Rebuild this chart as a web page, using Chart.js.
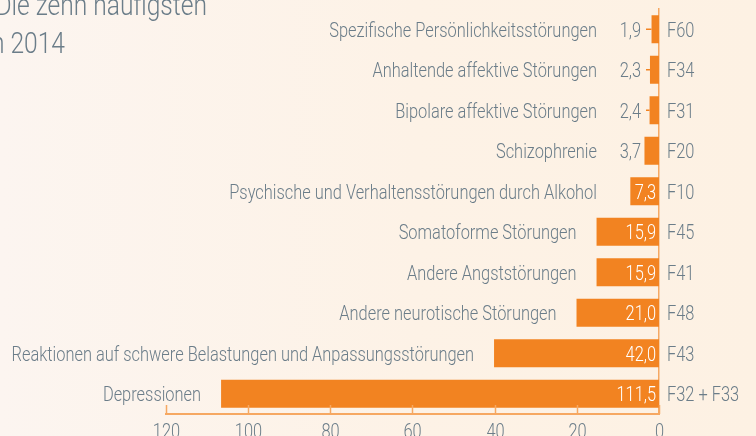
<!DOCTYPE html>
<html>
<head>
<meta charset="utf-8">
<script src="https://cdn.jsdelivr.net/npm/chart.js@4.4.1/dist/chart.umd.min.js"></script>
<style>
html, body { margin: 0; padding: 0; overflow: hidden; width: 756px; height: 436px;
  background: linear-gradient(90deg, #fcf5f0 0%, #fdf2e6 55%, #fdf1e3 100%); }
#wrap { position: absolute; left: 0; top: 0; width: 756px; height: 436px; }
</style>
</head>
<body>
<div id="wrap"><canvas id="chart"></canvas></div>
<script>
// Die zehn häufigsten Diagnosen, 2014
var diagnoses = [
    "Spezifische Persönlichkeitsstörungen",
    "Anhaltende affektive Störungen",
    "Bipolare affektive Störungen",
    "Schizophrenie",
    "Psychische und Verhaltensstörungen durch Alkohol",
    "Somatoforme Störungen",
    "Andere Angststörungen",
    "Andere neurotische Störungen",
    "Reaktionen auf schwere Belastungen und Anpassungsstörungen",
    "Depressionen"
];
var icdCodes = ["F60", "F34", "F31", "F20", "F10", "F45", "F41", "F48", "F43", "F32 + F33"];
var cases = [1.9, 2.3, 2.4, 3.7, 7.3, 15.9, 15.9, 21.0, 42.0, 111.5];
var titleLines = ["Die zehn häufigsten", "in 2014"];

var FONT = "Roboto, 'Liberation Sans', sans-serif";
var GREY = "#6b7d89";
var ORANGE = "#f28321";
var LINE = "#f6a862";
var SX = 0.82; // condensed look
var SIZE = 20;

Chart.defaults.font.family = FONT;
Chart.defaults.color = GREY;

function fmt(v) { return v.toFixed(1).replace(".", ","); }

function text(ctx, str, x, y, align, size, color) {
    ctx.save();
    ctx.font = "300 " + size + "px " + FONT;
    ctx.fillStyle = color;
    ctx.textAlign = align;
    ctx.textBaseline = "alphabetic";
    ctx.translate(x, y);
    ctx.scale(SX, 1);
    ctx.fillText(str, 0, 0);
    ctx.restore();
}

// names, values, axis labels and title
var labelPlugin = {
    id: "barLabels",
    afterDatasetsDraw(chart) {
        var ctx = chart.ctx;
        var meta = chart.getDatasetMeta(0);
        var xs = chart.scales.x;
        var ys = chart.scales.y;
        var area = chart.chartArea;

        // short ticks pointing up from the axis
        ctx.save();
        ctx.strokeStyle = LINE;
        ctx.lineWidth = 1.5;
        xs.ticks.forEach(function (t, i) {
            var px = Math.round(xs.getPixelForTick(i)) + 0.5;
            ctx.beginPath();
            ctx.moveTo(px, area.bottom - 9);
            ctx.lineTo(px, area.bottom);
            ctx.stroke();
            text(ctx, t.label, px, area.bottom + 24, "center", SIZE, GREY);
        });
        ctx.restore();

        meta.data.forEach(function (bar, i) {
            var v = cases[i];
            var y = bar.y + 7.5;
            if (v < 5) {
                text(ctx, fmt(v), bar.base - 18, y, "right", SIZE, GREY);
                if (bar.x > bar.base - 13) {
                    ctx.save();
                    ctx.strokeStyle = ORANGE;
                    ctx.lineWidth = 1.5;
                    ctx.beginPath();
                    ctx.moveTo(bar.base - 13, bar.y);
                    ctx.lineTo(bar.x, bar.y);
                    ctx.stroke();
                    ctx.restore();
                }
            } else {
                text(ctx, fmt(v), bar.base - 3, y, "right", SIZE, "#ffffff");
            }
            text(ctx, diagnoses[i], Math.min(bar.x, bar.base - 42) - 20, y, "right", SIZE, GREY);
            text(ctx, ys.getLabelForValue(i), ys.left + 8, ys.getPixelForTick(i) + 7.5, "left", SIZE, GREY);
        });

        text(ctx, titleLines[0], 207, 15, "right", 30, GREY);
        text(ctx, titleLines[1], 65, 53, "right", 30, GREY);
    }
};

var config = {
    type: "bar",
    data: {
        labels: icdCodes,
        datasets: [
            {
                data: cases,
                backgroundColor: ORANGE,
                barPercentage: 0.69,
                categoryPercentage: 1,
                xAxisID: "xb",
                yAxisID: "y"
            }
        ]
    },
    options: {
        indexAxis: "y",
        responsive: true,
        maintainAspectRatio: false,
        animation: false,
        layout: { padding: { left: 165.7, top: 9, right: 0, bottom: 0 } },
        plugins: { legend: { display: false }, tooltip: { enabled: false } },
        scales: {
            x: {
                position: "bottom",
                reverse: true,
                min: 0,
                max: 120,
                ticks: { stepSize: 20, color: "rgba(0,0,0,0)" },
                grid: { display: false },
                border: { display: true, color: LINE, width: 2 },
                afterFit(scale) {
                    scale.height = 22;
                    scale.paddingLeft = 0;
                    scale.paddingRight = 0;
                }
            },
            xb: {
                display: false,
                reverse: true,
                min: 0,
                max: 125.6
            },
            y: {
                position: "right",
                offset: true,
                ticks: { padding: 8, color: "rgba(0,0,0,0)" },
                grid: { display: false, drawTicks: false },
                border: { display: true, color: LINE, width: 1.5 },
                afterFit(scale) {
                    scale.width = 97;
                    scale.paddingTop = 0;
                    scale.paddingBottom = 0;
                }
            }
        }
    },
    plugins: [labelPlugin]
};

var chart = new Chart(document.getElementById("chart"), config);
</script>
</body>
</html>
